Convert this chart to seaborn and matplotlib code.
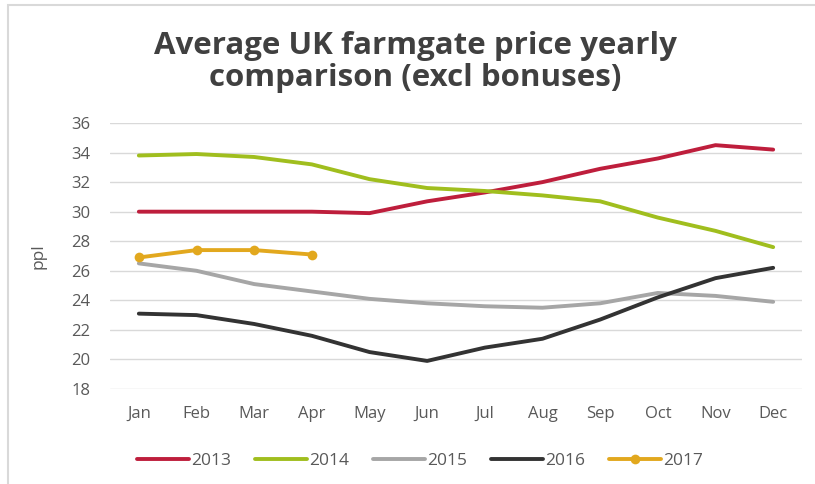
import matplotlib
matplotlib.use("Agg")
import matplotlib.pyplot as plt
import seaborn as sns
import pandas as pd
from matplotlib.patches import Rectangle

months = ["Jan", "Feb", "Mar", "Apr", "May", "Jun", "Jul", "Aug", "Sep", "Oct", "Nov", "Dec"]
y2013 = [30.0, 30.0, 30.0, 30.0, 29.9, 30.7, 31.3, 32.0, 32.9, 33.6, 34.5, 34.2]
y2014 = [33.8, 33.9, 33.7, 33.2, 32.2, 31.6, 31.4, 31.1, 30.7, 29.6, 28.7, 27.6]
y2015 = [26.5, 26.0, 25.1, 24.6, 24.1, 23.8, 23.6, 23.5, 23.8, 24.5, 24.3, 23.9]
y2016 = [23.1, 23.0, 22.4, 21.6, 20.5, 19.9, 20.8, 21.4, 22.7, 24.2, 25.5, 26.2]
y2017 = [26.9, 27.4, 27.4, 27.1]
years = ["2013", "2014", "2015", "2016", "2017"]
colors = {"2013": "#BE1E3C", "2014": "#A0BE1E", "2015": "#A6A6A6", "2016": "#333333", "2017": "#E2A81E"}

rows = []
for yr, vals in zip(years, [y2013, y2014, y2015, y2016, y2017]):
    for i, v in enumerate(vals):
        rows.append({"month": i, "year": yr, "value": v})
df = pd.DataFrame(rows)

sns.set_theme(style="white")
plt.rcParams["font.family"] = ["Open Sans", "DejaVu Sans"]

fig = plt.figure(figsize=(8.15, 4.84), dpi=100)
ax = fig.add_axes([110/815, 1-389/484, 692/815, 266/484])

for yr in years:
    sub = df[df["year"] == yr]
    sns.lineplot(data=sub, x="month", y="value", ax=ax, color=colors[yr], linewidth=2.8,
                 marker="o" if yr == "2017" else None, markersize=7, markeredgewidth=0,
                 label=yr, legend=False)

ax.set_xlim(-0.5, 11.5)
ax.set_ylim(18, 36)
ax.set_yticks(range(18, 37, 2))
ax.set_xticks(range(12))
ax.set_xticklabels(months)
ax.yaxis.grid(True, color="#D9D9D9", linewidth=1)
ax.xaxis.grid(False)
for s in ax.spines.values():
    s.set_visible(False)
ax.tick_params(axis="both", length=0, labelsize=12, labelcolor="#595959")
ax.tick_params(axis="x", pad=12)
ax.tick_params(axis="y", pad=14)
ax.set_xlabel("")
ax.set_ylabel("ppl", fontsize=12.5, color="#595959", labelpad=18)

fig.text(0.51, 1-62/484, "Average UK farmgate price yearly\ncomparison (excl bonuses)",
         ha="center", va="center", fontsize=22.5, fontweight="bold", color="#404040",
         linespacing=1.12)

handles, labels = ax.get_legend_handles_labels()
fig.legend(handles, labels, loc="center", bbox_to_anchor=(420/815, 1-461/484), ncol=5,
           frameon=False, fontsize=12.5, handlelength=3.0, handletextpad=0.1,
           columnspacing=1.4, labelcolor="#595959")

fig.patches.append(Rectangle((8/815, -0.1), 1.2, 1-5/484+0.1, transform=fig.transFigure,
                             fill=False, edgecolor="#D9D9D9", linewidth=1.5))

fig.savefig("out.png", dpi=100)
